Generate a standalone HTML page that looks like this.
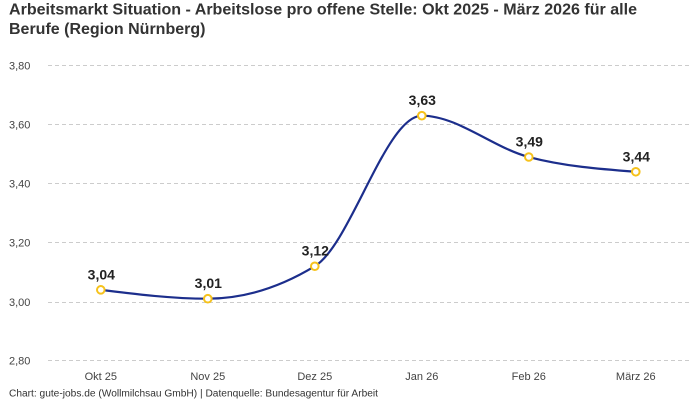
<!DOCTYPE html>
<html>
<head>
<meta charset="utf-8">
<style>
  html, body { margin: 0; padding: 0; background: #ffffff; }
  svg { display: block; }
  text { font-family: "Liberation Sans", "DejaVu Sans", sans-serif; }
</style>
</head>
<body>
<svg width="700" height="400" viewBox="0 0 700 400" xmlns="http://www.w3.org/2000/svg">
  <rect width="700" height="400" fill="#ffffff"/>
  <!-- Title -->
  <text x="9" y="14.5" font-size="16" font-weight="bold" fill="#333333" textLength="628" lengthAdjust="spacingAndGlyphs">Arbeitsmarkt Situation - Arbeitslose pro offene Stelle: Okt 2025 - März 2026 für alle</text>
  <text x="9" y="34" font-size="16" font-weight="bold" fill="#333333">Berufe (Region Nürnberg)</text>

  <!-- Grid lines -->
  <g stroke="#cccccc" stroke-width="1" stroke-dasharray="4,3" fill="none">
    <line x1="48" y1="65.5" x2="690" y2="65.5"/>
    <line x1="48" y1="124.5" x2="690" y2="124.5"/>
    <line x1="48" y1="183.5" x2="690" y2="183.5"/>
    <line x1="48" y1="242.5" x2="690" y2="242.5"/>
    <line x1="48" y1="302.5" x2="690" y2="302.5"/>
    <line x1="48" y1="360.5" x2="690" y2="360.5"/>
  </g>

  <!-- Y axis labels -->
  <g font-size="11" fill="#444444">
    <text x="9" y="69.5">3,80</text>
    <text x="9" y="128.5">3,60</text>
    <text x="9" y="187.5">3,40</text>
    <text x="9" y="246.5">3,20</text>
    <text x="9" y="306">3,00</text>
    <text x="9" y="364.5">2,80</text>
  </g>

  <!-- X axis labels -->
  <g font-size="11" fill="#444444" text-anchor="middle">
    <text x="100.8" y="380">Okt 25</text>
    <text x="207.8" y="380">Nov 25</text>
    <text x="314.8" y="380">Dez 25</text>
    <text x="421.8" y="380">Jan 26</text>
    <text x="528.8" y="380">Feb 26</text>
    <text x="635.8" y="380">März 26</text>
  </g>

  <!-- Line -->
  <path d="M100.8,289.85 C136.47,294.28 172.13,298.71 207.8,298.71 C243.47,298.71 279.13,287.89 314.8,266.24 C350.47,244.59 386.13,115.68 421.8,115.68 C457.47,115.68 493.13,147.66 528.8,157.01 C564.47,166.36 600.13,169.06 635.8,171.77"
        fill="none" stroke="#1c2e8c" stroke-width="2.2" stroke-linejoin="round" stroke-linecap="round"/>

  <!-- Markers -->
  <g fill="#ffffff" stroke="#f6c21c" stroke-width="2">
    <circle cx="100.8" cy="289.85" r="3.8"/>
    <circle cx="207.8" cy="298.71" r="3.8"/>
    <circle cx="314.8" cy="266.24" r="3.8"/>
    <circle cx="421.8" cy="115.68" r="3.8"/>
    <circle cx="528.8" cy="157.01" r="3.8"/>
    <circle cx="635.8" cy="171.77" r="3.8"/>
  </g>

  <!-- Data labels -->
  <g font-size="14" font-weight="bold" fill="#222222" text-anchor="middle">
    <text x="101.3" y="279.3">3,04</text>
    <text x="208.3" y="288.2">3,01</text>
    <text x="315.3" y="255.7">3,12</text>
    <text x="422.3" y="105.2">3,63</text>
    <text x="529.3" y="146.5">3,49</text>
    <text x="636.3" y="161.3">3,44</text>
  </g>

  <!-- Footer -->
  <text x="9" y="396.5" font-size="10" fill="#333333" textLength="369" lengthAdjust="spacingAndGlyphs">Chart: gute-jobs.de (Wollmilchsau GmbH) | Datenquelle: Bundesagentur für Arbeit</text>
</svg>
</body>
</html>
